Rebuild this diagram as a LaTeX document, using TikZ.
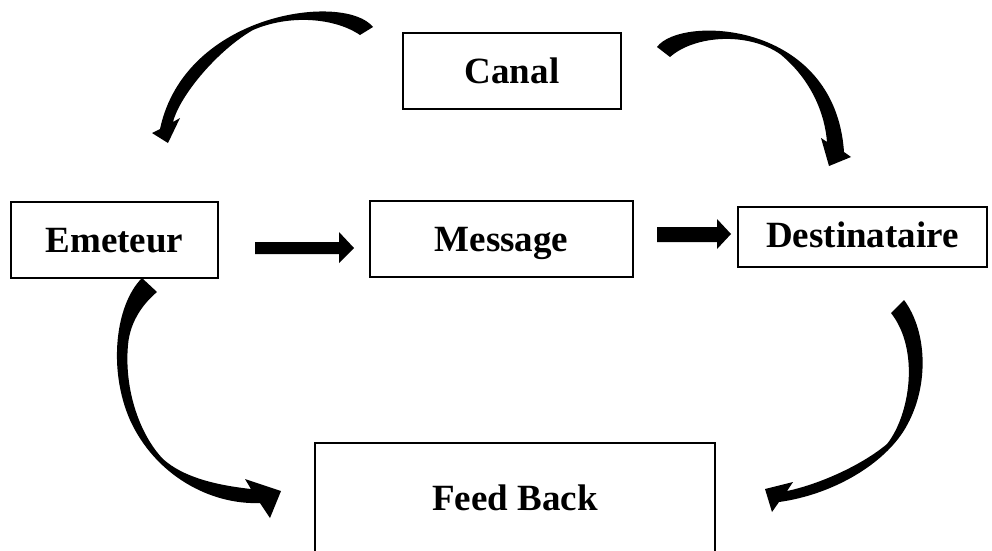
\documentclass[tikz,border=0pt]{standalone}
\usepackage{fontspec}
\setmainfont{Liberation Serif}
\begin{document}
\begin{tikzpicture}[x=1pt,y=-1pt,
  box/.style={draw, line width=2pt, inner sep=0pt, text height=25pt, text depth=0pt,
    font=\fontsize{37}{44}\selectfont\bfseries},
  blockarrow/.style={fill=black}]
\useasboundingbox (0,0) rectangle (992,550);
% boxes
\node[box, minimum width=218pt, minimum height=76pt] (canal) at (512,71) {Canal};
\node[box, minimum width=207pt, minimum height=76pt] (emeteur) at (114.5,240) {Emeteur};
\node[box, minimum width=263pt, minimum height=76pt] (message) at (501.5,239) {Message};
\node[box, minimum width=249pt, minimum height=60pt, text height=21pt] (dest) at (862.5,237) {Destinataire};
\node[box, minimum width=400pt, minimum height=110pt] (feed) at (515,498) {Feed Back};
% straight block arrows
\fill[blockarrow] (255,242) -- (339,242) -- (339,232) -- (354,248) -- (339,263) -- (339,254) -- (255,254) -- cycle;
\fill[blockarrow] (657,227) -- (717,227) -- (717,219) -- (731,234) -- (717,249) -- (717,242) -- (657,242) -- cycle;
% curved arrow: canal -> emeteur
\fill[blockarrow] (373,27) .. controls (345,-8) and (185,12) .. (160,129) -- (152,133) -- (168,143) -- (180,118) -- (173,122)
  .. controls (180,95) and (218,50) .. (253,30) .. controls (290,14) and (335,18) .. (360,35) -- cycle;
% curved arrow: canal -> destinataire
\fill[blockarrow] (657,47) .. controls (680,15) and (835,20) .. (844,152) -- (851,157) -- (829,166) -- (821,138) -- (827,142)
  .. controls (825,115) and (812,80) .. (780,54) .. controls (748,32) and (695,35) .. (670,57) -- cycle;
% curved arrow: emeteur -> feed back
\fill[blockarrow] (142,278) .. controls (115,305) and (108,370) .. (130,420) .. controls (155,475) and (210,505) .. (260,503)
  -- (270,518) -- (281,491) -- (245,479) -- (251,489)
  .. controls (215,485) and (183,477) .. (163,459) .. controls (140,435) and (124,390) .. (128,345)
  .. controls (130,320) and (145,302) .. (157,292) -- cycle;
% curved arrow: destinataire -> feed back
\fill[blockarrow] (904,300) .. controls (928,332) and (930,390) .. (903,432) .. controls (880,467) and (830,495) .. (779,502)
  -- (772,512) -- (765,489) -- (793,482) -- (787,491)
  .. controls (820,484) and (862,465) .. (887,444) .. controls (910,415) and (920,350) .. (891,313) -- cycle;
\end{tikzpicture}
\end{document}
